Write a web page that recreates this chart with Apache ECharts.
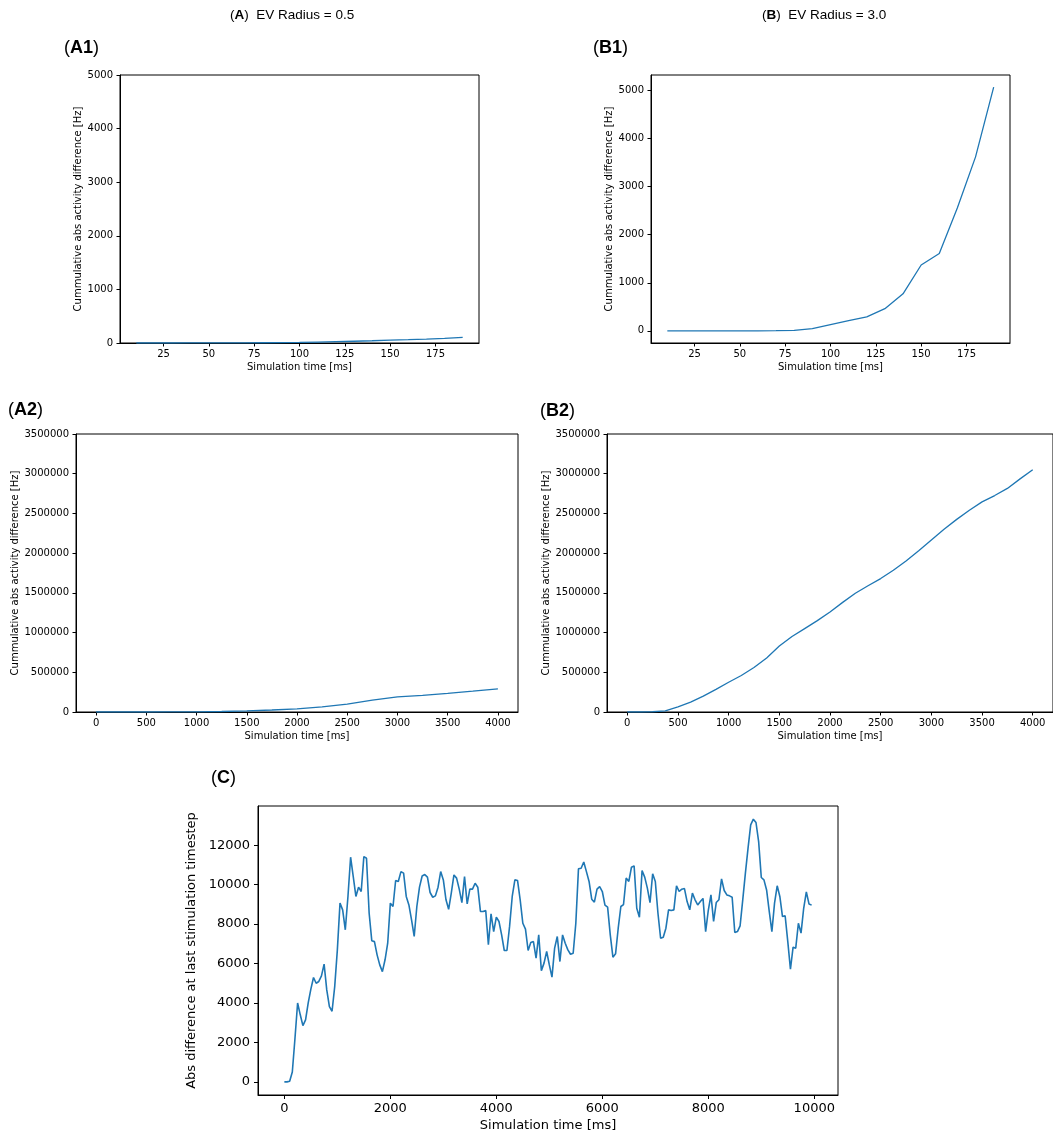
<!DOCTYPE html>
<html>
<head>
<meta charset="utf-8">
<script src="https://cdn.jsdelivr.net/npm/echarts@6/dist/echarts.min.js"></script>
<style>
  html, body { margin: 0; padding: 0; background: #ffffff; }
  #chart { width: 1053px; height: 1138px; }
</style>
</head>
<body>
<div id="chart"></div>
<script>
// ---- A1: EV radius 0.5, first 200 ms (cumulative abs activity difference, Hz)
const a1Time  = [10, 20, 30, 40, 50, 60, 70, 80, 90, 100, 110, 120, 130, 140, 150, 160, 170, 180, 190];
const a1Value = [0, 0, 0, 1, 1, 2, 3, 5, 8, 12, 18, 25, 33, 42, 52, 62, 74, 88, 104];

// ---- B1: EV radius 3.0, first 200 ms
const b1Time  = [10, 20, 30, 40, 50, 60, 70, 80, 90, 100, 110, 120, 130, 140, 150, 160, 170, 180, 190];
const b1Value = [0, 0, 0, 0, 0, 0, 2, 10, 45, 130, 210, 290, 460, 770, 1370, 1610, 2560, 3620, 5070];

// ---- A2: EV radius 0.5, full 4 s
const a2Time  = [0, 250, 500, 750, 1000, 1250, 1500, 1750, 2000, 2250, 2500, 2750, 3000, 3250, 3500, 3750, 4000];
const a2Value = [0, 0, 0, 500, 2000, 6000, 14000, 25000, 40000, 65000, 100000, 150000, 190000, 210000, 235000, 262000, 290000];

// ---- B2: EV radius 3.0, full 4 s
const b2Time  = [0, 125, 250, 375, 500, 625, 750, 875, 1000, 1125, 1250, 1375, 1500, 1625, 1750, 1875,
                 2000, 2125, 2250, 2375, 2500, 2625, 2750, 2875, 3000, 3125, 3250, 3375, 3500, 3625, 3750, 3875, 4000];
const b2Value = [0, 0, 3000, 15000, 65000, 125000, 200000, 285000, 375000, 460000, 560000, 680000, 830000, 950000,
                 1050000, 1150000, 1260000, 1380000, 1495000, 1590000, 1680000, 1785000, 1900000, 2030000, 2165000,
                 2300000, 2425000, 2540000, 2645000, 2725000, 2815000, 2935000, 3050000];

// ---- C: abs difference at last stimulation timestep (every 50 ms)
const cTime = [
  0, 50, 100, 150, 200, 250, 300, 350, 400, 450,
  500, 550, 600, 650, 700, 750, 800, 850, 900, 950,
  1000, 1050, 1100, 1150, 1200, 1250, 1300, 1350, 1400, 1450,
  1500, 1550, 1600, 1650, 1700, 1750, 1800, 1850, 1900, 1950,
  2000, 2050, 2100, 2150, 2200, 2250, 2300, 2350, 2400, 2450,
  2500, 2550, 2600, 2650, 2700, 2750, 2800, 2850, 2900, 2950,
  3000, 3050, 3100, 3150, 3200, 3250, 3300, 3350, 3400, 3450,
  3500, 3550, 3600, 3650, 3700, 3750, 3800, 3850, 3900, 3950,
  4000, 4050, 4100, 4150, 4200, 4250, 4300, 4350, 4400, 4450,
  4500, 4550, 4600, 4650, 4700, 4750, 4800, 4850, 4900, 4950,
  5000, 5050, 5100, 5150, 5200, 5250, 5300, 5350, 5400, 5450,
  5500, 5550, 5600, 5650, 5700, 5750, 5800, 5850, 5900, 5950,
  6000, 6050, 6100, 6150, 6200, 6250, 6300, 6350, 6400, 6450,
  6500, 6550, 6600, 6650, 6700, 6750, 6800, 6850, 6900, 6950,
  7000, 7050, 7100, 7150, 7200, 7250, 7300, 7350, 7400, 7450,
  7500, 7550, 7600, 7650, 7700, 7750, 7800, 7850, 7900, 7950,
  8000, 8050, 8100, 8150, 8200, 8250, 8300, 8350, 8400, 8450,
  8500, 8550, 8600, 8650, 8700, 8750, 8800, 8850, 8900, 8950,
  9000, 9050, 9100, 9150, 9200, 9250, 9300, 9350, 9400, 9450,
  9500, 9550, 9600, 9650, 9700, 9750, 9800, 9850, 9900, 9950
];
const cValue = [
  0, 0, 30, 500, 2200, 4000, 3400, 2850, 3140, 4000,
  4700, 5290, 5000, 5090, 5370, 5970, 4660, 3820, 3580, 4830,
  6690, 9060, 8720, 7710, 9400, 11390, 10410, 9400, 9870, 9650,
  11420, 11340, 8550, 7150, 7110, 6440, 5930, 5590, 6190, 7030,
  9060, 8890, 10210, 10160, 10660, 10580, 9400, 8970, 8210, 7370,
  8890, 9870, 10440, 10510, 10380, 9600, 9360, 9430, 9870, 10660,
  10240, 9230, 8750, 9570, 10490, 10330, 9770, 9090, 10410, 9020,
  9770, 9770, 10070, 9870, 8640, 8640, 8690, 6950, 8520, 7620,
  8350, 8130, 7450, 6660, 6660, 7880, 9400, 10240, 10210, 9230,
  8040, 7740, 6660, 7060, 7110, 6270, 7450, 5640, 6020, 6610,
  5930, 5310, 6780, 7370, 6100, 7450, 7030, 6690, 6470, 6520,
  8040, 10800, 10830, 11150, 10660, 10160, 9260, 9110, 9770, 9900,
  9650, 8960, 8860, 7450, 6320, 6490, 7790, 8890, 8990, 10330,
  10160, 10880, 10950, 8800, 8350, 10710, 10380, 9820, 9090, 10550,
  10160, 8550, 7280, 7330, 7790, 8720, 8690, 8720, 9940, 9650,
  9770, 9800, 9140, 8720, 9570, 9230, 8970, 9140, 9300, 7620,
  8700, 9480, 8130, 9090, 9230, 10290, 9700, 9480, 9430, 9360,
  7570, 7620, 7910, 9230, 10580, 11850, 13030, 13320, 13150, 12180,
  10360, 10240, 9730, 8640, 7620, 9060, 9940, 9400, 8380, 8420,
  7110, 5710, 6830, 6780, 8040, 7540, 8800, 9630, 9020, 8960
];

// ---- tick positions
const shortTimeTicks = [25, 50, 75, 100, 125, 150, 175];
const a1YTicks = [0, 1000, 2000, 3000, 4000, 5000];
const b1YTicks = [0, 1000, 2000, 3000, 4000, 5000];
const longTimeTicks = [0, 500, 1000, 1500, 2000, 2500, 3000, 3500, 4000];
const cumYTicks = [0, 500000, 1000000, 1500000, 2000000, 2500000, 3000000, 3500000];
const cTimeTicks = [0, 2000, 4000, 6000, 8000, 10000];
const cYTicks = [0, 2000, 4000, 6000, 8000, 10000, 12000];

const LINE_COLOR = '#1f77b4';
const FONT = "'DejaVu Sans', sans-serif";
const HEAD_FONT = "'Liberation Sans', Arial, sans-serif";

// autoscale with 5% padding on each side (same as the plotting default)
function padded(arr) {
  const lo = Math.min(...arr), hi = Math.max(...arr);
  const pad = (hi - lo) * 0.05;
  return [lo - pad, hi + pad];
}

function zip(xs, ys) { return xs.map((x, i) => [x, ys[i]]); }

function axis(gridIndex, range, ticks, o) {
  return {
    type: 'value',
    gridIndex: gridIndex,
    min: range[0],
    max: range[1],
    name: o.name,
    nameLocation: 'middle',
    nameGap: o.nameGap,
    nameTextStyle: { fontFamily: FONT, fontSize: o.nameSize, color: '#000' },
    splitLine: { show: false },
    axisLine: { show: true, onZero: false, lineStyle: { color: '#000', width: 1 } },
    axisTick: { show: true, inside: false, length: o.tickLen, customValues: ticks,
                lineStyle: { color: '#000', width: 1 } },
    axisLabel: { show: true, customValues: ticks, margin: o.labelMargin,
                 fontFamily: FONT, fontSize: o.labelSize, color: '#000',
                 formatter: v => String(v) }
  };
}

const grids = [
  { left: 120, top: 75,  width: 359, height: 268 },   // A1
  { left: 651, top: 75,  width: 359, height: 268 },   // B1
  { left: 76,  top: 434, width: 442, height: 278 },   // A2
  { left: 607, top: 434, width: 450, height: 278 },   // B2
  { left: 258, top: 806, width: 580, height: 289 }    // C
].map(g => Object.assign({ show: true, borderColor: '#000', borderWidth: 1,
                           backgroundColor: 'transparent', containLabel: false }, g));

const smallX = { name: 'Simulation time [ms]', nameGap: 19, nameSize: 10, tickLen: 3.5, labelMargin: 6, labelSize: 10 };
const cumYName = 'Cummulative abs activity difference [Hz]';
const smallY = (gap) => ({ name: cumYName, nameGap: gap, nameSize: 10, tickLen: 3.5, labelMargin: 7, labelSize: 10 });

const xAxes = [
  axis(0, padded(a1Time), shortTimeTicks, smallX),
  axis(1, padded(b1Time), shortTimeTicks, smallX),
  axis(2, padded(a2Time), longTimeTicks, smallX),
  axis(3, padded(b2Time), longTimeTicks, smallX),
  axis(4, padded(cTime), cTimeTicks,
       { name: 'Simulation time [ms]', nameGap: 24, nameSize: 13, tickLen: 4, labelMargin: 7, labelSize: 13 })
];

const yAxes = [
  axis(0, [0, 5000], a1YTicks, smallY(37)),
  axis(1, padded(b1Value), b1YTicks, smallY(37)),
  axis(2, [0, 3500000], cumYTicks, smallY(56)),
  axis(3, [0, 3500000], cumYTicks, smallY(56)),
  axis(4, padded(cValue), cYTicks,
       { name: 'Abs difference at last stimulation timestep', nameGap: 56, nameSize: 13, tickLen: 4, labelMargin: 8, labelSize: 13 })
];

function lineSeries(idx, data, width) {
  return {
    type: 'line', xAxisIndex: idx, yAxisIndex: idx, data: data,
    showSymbol: false, symbol: 'none', smooth: false, animation: false,
    lineStyle: { color: LINE_COLOR, width: width }, clip: true
  };
}

const series = [
  lineSeries(0, zip(a1Time, a1Value), 1.3),
  lineSeries(1, zip(b1Time, b1Value), 1.3),
  lineSeries(2, zip(a2Time, a2Value), 1.3),
  lineSeries(3, zip(b2Time, b2Value), 1.3),
  lineSeries(4, zip(cTime, cValue), 1.6)
];

// panel headings: "(X)" with only the letter in bold
function richFor(size) {
  return {
    p: { fontFamily: HEAD_FONT, fontSize: size, fontWeight: 'normal', color: '#000' },
    b: { fontFamily: HEAD_FONT, fontSize: size, fontWeight: 'bold', color: '#000' }
  };
}
function heading(text, left, top, size) {
  return { text: text, left: left, top: top, padding: 0,
           textStyle: { fontWeight: 'normal', fontFamily: HEAD_FONT, fontSize: size, rich: richFor(size) } };
}

const titles = [
  heading('{p|(}{b|A}{p|)  EV Radius = 0.5}', 230, 8, 13.5),
  heading('{p|(}{b|B}{p|)  EV Radius = 3.0}', 762, 8, 13.5),
  heading('{p|(}{b|A1}{p|)}', 64, 39, 18),
  heading('{p|(}{b|B1}{p|)}', 593, 39, 18),
  heading('{p|(}{b|A2}{p|)}', 8, 401, 18),
  heading('{p|(}{b|B2}{p|)}', 540, 402, 18),
  heading('{p|(}{b|C}{p|)}', 211, 769, 18)
];

const chart = echarts.init(document.getElementById('chart'), null, { renderer: 'canvas' });
chart.setOption({
  animation: false,
  backgroundColor: '#ffffff',
  title: titles,
  grid: grids,
  xAxis: xAxes,
  yAxis: yAxes,
  series: series
});
</script>
</body>
</html>
